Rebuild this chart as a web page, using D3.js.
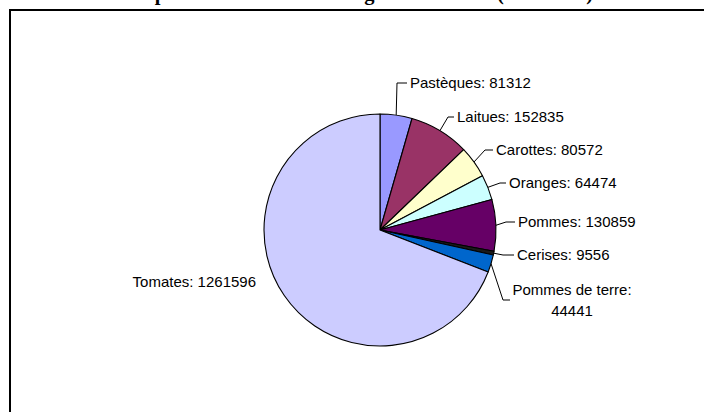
<!DOCTYPE html>
<html>
<head>
<meta charset="utf-8">
<script src="https://cdn.jsdelivr.net/npm/d3@7"></script>
<style>
  html, body { margin: 0; padding: 0; background: #fff; }
  svg { display: block; }
</style>
</head>
<body>
<svg id="chart" width="704" height="412"></svg>
<script>
// ---- data ----
const title = "Exportations de fruits et légumes en 2004 (en tonnes)";
const categories = ["Pastèques", "Laitues", "Carottes", "Oranges", "Pommes", "Cerises", "Pommes de terre", "Tomates"];
const values = [81312, 152835, 80572, 64474, 130859, 9556, 44441, 1261596];
const colors = ["#9999FF", "#993366", "#FFFFCC", "#CCFFFF", "#660066", "#1a1a1a", "#0066CC", "#CCCCFF"];

// ---- layout ----
const W = 704, H = 412;
const cx = 380, cy = 230, R = 116;
// label text anchor (x, y centre), elbow point for leader line, text alignment
const labelLayout = [
  { tx: 410, ty: 83,  ex: 397, ey: 83,  anchor: "start" },
  { tx: 457, ty: 117, ex: 448, ey: 117, anchor: "start" },
  { tx: 496, ty: 150, ex: 485, ey: 150, anchor: "start" },
  { tx: 509, ty: 183, ex: 500, ey: 183, anchor: "start" },
  { tx: 518, ty: 222, ex: 506, ey: 222, anchor: "start" },
  { tx: 517, ty: 255, ex: 503, ey: 255, anchor: "start" },
  { tx: 572, ty: 300, ex: 503, ey: 300, anchor: "middle", wrap: true, lx: 513 },
  { tx: 256, ty: 282, anchor: "end", noLeader: true }
];

const svg = d3.select("#chart");
const font = "'Liberation Sans', Arial, sans-serif";

// outer frame
svg.append("rect")
  .attr("x", 10).attr("y", 10)
  .attr("width", 800).attr("height", 600)
  .attr("fill", "none").attr("stroke", "#000").attr("stroke-width", 2);

// title (mostly cut off at the top, as in the reference)
svg.append("text")
  .attr("x", 362).attr("y", 0)
  .attr("text-anchor", "middle")
  .attr("font-family", "'Liberation Serif', 'Times New Roman', serif")
  .attr("font-weight", "bold")
  .attr("font-size", 20.5)
  .text(title);

const data = categories.map((c, i) => ({ name: c, value: values[i], color: colors[i], lay: labelLayout[i] }));

const pie = d3.pie().value(d => d.value).sort(null);
const arcs = pie(data);
const arc = d3.arc().innerRadius(0).outerRadius(R);

const g = svg.append("g").attr("transform", `translate(${cx},${cy})`);
g.selectAll("path.slice")
  .data(arcs)
  .join("path")
  .attr("class", "slice")
  .attr("d", arc)
  .attr("fill", d => d.data.color)
  .attr("stroke", "#000")
  .attr("stroke-width", 1.1)
  .attr("stroke-linejoin", "round");

// leader lines
arcs.forEach(a => {
  const L = a.data.lay;
  if (L.noLeader) return;
  const mid = (a.startAngle + a.endAngle) / 2;
  const sx = cx + R * Math.sin(mid), sy = cy - R * Math.cos(mid);
  const endX = (L.wrap ? L.lx : L.tx) - 3;
  svg.append("path")
    .attr("d", d3.line()([[sx, sy], [L.ex, L.ey], [endX, L.ey]]))
    .attr("fill", "none").attr("stroke", "#000").attr("stroke-width", 1);
});

// labels
arcs.forEach(a => {
  const L = a.data.lay;
  const t = svg.append("text")
    .attr("font-family", font)
    .attr("font-size", 15)
    .attr("fill", "#000")
    .attr("text-anchor", L.anchor);
  if (L.wrap) {
    t.append("tspan").attr("x", L.tx).attr("y", L.ty - 10.5).attr("dy", "0.35em").text(a.data.name + ":");
    t.append("tspan").attr("x", L.tx).attr("y", L.ty + 10.5).attr("dy", "0.35em").text(a.data.value);
  } else {
    t.attr("x", L.tx).attr("y", L.ty).attr("dy", "0.35em").text(a.data.name + ": " + a.data.value);
  }
});
</script>
</body>
</html>
